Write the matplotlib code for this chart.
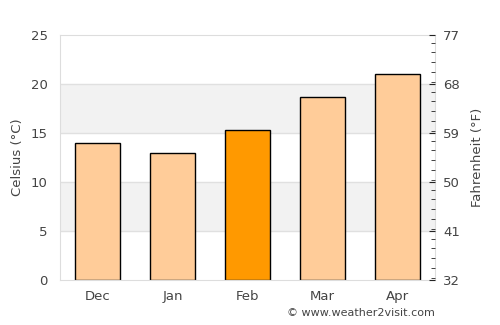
import matplotlib
matplotlib.use("Agg")
import matplotlib.pyplot as plt
from matplotlib.ticker import MultipleLocator, FixedLocator

months = ["Dec", "Jan", "Feb", "Mar", "Apr"]
celsius = [14.0, 13.0, 15.3, 18.7, 21.0]
colors = ["#ffcc99", "#ffcc99", "#ff9900", "#ffcc99", "#ffcc99"]
c_ticks = [0, 5, 10, 15, 20, 25]
f_ticks = [32, 41, 50, 59, 68, 77]

txt = "#444444"
fig = plt.figure(figsize=(5, 3.25), dpi=100)
ax = fig.add_axes([60/500, 1-280/325, 375/500, 245/325])

for lo, hi in [(5, 10), (15, 20)]:
    ax.axhspan(lo, hi, color="#f2f2f2", zorder=0, lw=0)
for y in c_ticks[1:-1]:
    ax.axhline(y, color="#e0e0e0", lw=1, zorder=0.5)

x = range(len(months))
ax.bar(x, celsius, width=0.6, color=colors, edgecolor="black", linewidth=1, zorder=2)
ax.set_xlim(-0.5, len(months) - 0.5)
ax.set_ylim(0, 25)
ax.set_yticks(c_ticks)
ax.set_xticks(list(x))
ax.set_xticklabels(months)
ax.tick_params(axis="both", length=0, colors=txt, labelsize=9.5, pad=7)
ax.tick_params(axis="y", pad=9)
ax.set_ylabel("Celsius (°C)", color=txt, fontsize=9.5, labelpad=5)
for s in ax.spines.values():
    s.set_color("#dddddd")

ax2 = ax.twinx()
ax2.set_ylim(32, 77)
ax2.yaxis.set_major_locator(FixedLocator(f_ticks))
ax2.yaxis.set_minor_locator(MultipleLocator(1.8))
ax2.tick_params(axis="y", which="major", direction="in", length=4, color="#222222", labelcolor=txt, labelsize=9.5, pad=6)
ax2.tick_params(axis="y", which="minor", direction="in", length=3, color="#222222")
ax2.set_ylabel("Fahrenheit (°F)", color=txt, fontsize=9.5, labelpad=8)
for s in ax2.spines.values():
    s.set_visible(False)

fig.text(435/500, 1-313/325, "© www.weather2visit.com", ha="right", va="center", fontsize=8, color=txt)
fig.savefig("out.png", dpi=100)
